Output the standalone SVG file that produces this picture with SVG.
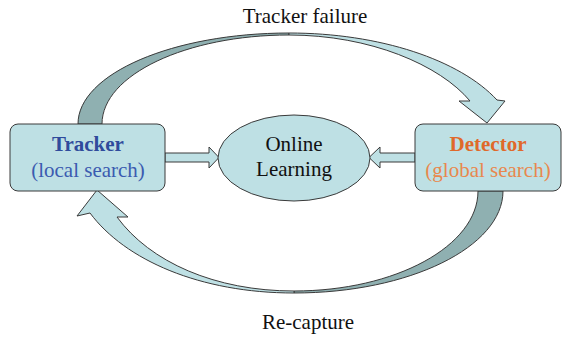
<svg xmlns="http://www.w3.org/2000/svg" width="569" height="338" viewBox="0 0 569 338">
  <style>
    .light { fill: #bee0e4; stroke: #3a3a3a; stroke-width: 1; stroke-linejoin: round; }
    .dark { fill: #8fb0b1; stroke: #3a3a3a; stroke-width: 1; stroke-linejoin: round; }
    text { font-family: 'Liberation Serif', 'DejaVu Serif', serif; font-size: 21px; text-anchor: middle; }
  </style>
  <rect width="569" height="338" fill="#ffffff"/>
  <g id="connectors">
    <path class="dark" d="M78,124 C78,73.7 173.4,33 289,33 L289,35 C186.6,35 102,74.8 102,124 Z"/>
    <path class="light" d="M289,33 C380,33 460,60 497,100 L505,101 L487,123 L459,101 L470,101 C440,65 370,35 289,35 Z"/>
    <path class="dark" d="M503,191 C503,246.9 409.4,293 294,293 L294,291 C395.6,291 478,245.8 478,191 Z"/>
    <path class="light" d="M294,293 C200,293 125,260 90,213 L77,216 L97,190 L128,217 L117,217 C150,262 215,291 294,291 Z"/>
    <path class="light" d="M165,153 L209,153 L209,147 L219,157.5 L209,168 L209,162 L165,162 Z"/>
    <path class="light" d="M415,153 L380,153 L380,147 L369,157.5 L380,168 L380,162 L415,162 Z"/>
    <text x="305" y="23" fill="#111111">Tracker failure</text>
    <text x="308" y="329" fill="#111111">Re-capture</text>
  </g>
  <g id="tracker">
    <rect class="light" x="10" y="124" width="155" height="67" rx="8"/>
    <text x="88" y="151" fill="#2f4b9c" font-weight="bold">Tracker</text>
    <text x="88" y="177" fill="#3b5bb0">(local search)</text>
  </g>
  <g id="online-learning">
    <ellipse class="light" cx="294" cy="158" rx="76" ry="43"/>
    <text x="294" y="151" fill="#111111">Online</text>
    <text x="294" y="176" fill="#111111">Learning</text>
  </g>
  <g id="detector">
    <rect class="light" x="415" y="124" width="146" height="67" rx="8"/>
    <text x="488" y="151" fill="#e0692a" font-weight="bold">Detector</text>
    <text x="488" y="177" fill="#e8884e">(global search)</text>
  </g>
</svg>
